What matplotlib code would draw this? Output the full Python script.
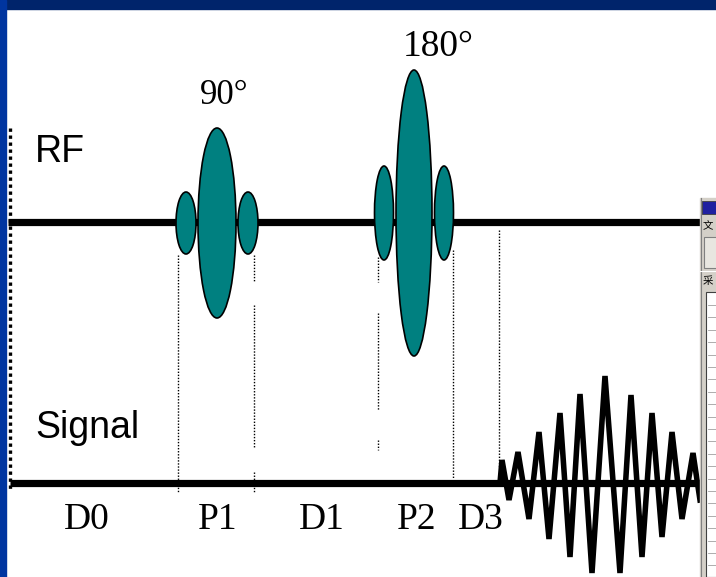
import numpy as np
import matplotlib.pyplot as plt
from matplotlib.patches import Ellipse, Rectangle

# Sequence timing (pixel time axis) and pulse amplitudes
pulse_names = ["90°", "180°"]
pulse_centers = [217, 414]
pulse_main_height = [95, 143]
pulse_main_halfwidth = [19, 18]
pulse_lobe_offset = [31, 30]
pulse_lobe_height = [31, 47]
pulse_lobe_halfwidth = [10, 9.5]
pulse_y = [223, 213]

interval_labels = ["D0", "P1", "D1", "P2", "D3"]
interval_centers = [87, 218, 322, 417, 481]

# Echo extrema (position, signed amplitude)
echo_x = [500, 502, 509, 518, 529, 539, 549, 560, 570, 580, 592, 605,
          620, 631, 642, 652, 662, 672, 682, 693, 700]
echo_amp = [0, 23, -17, 31, -36, 51, -56, 70, -74, 89, -90, 107,
            -90, 88, -74, 70, -54, 51, -36, 30, -17]

rf_y = 222
sig_y = 483

fig = plt.figure(figsize=(7.16, 5.77), dpi=100)
ax = fig.add_axes([0, 0, 1, 1])
ax.set_xlim(0, 716)
ax.set_ylim(577, 0)
ax.axis("off")

# slide frame
ax.add_patch(Rectangle((0, 0), 716, 9, color="#00246B", zorder=1))
ax.add_patch(Rectangle((0, 0), 6, 577, color="#0035A0", zorder=1))

# left dotted marker
ax.plot([10, 10], [128, 490], color="black", lw=2.4, ls=(0, (1, 1.1)), zorder=2)

# baselines
ax.plot([8, 700], [rf_y, rf_y], color="black", lw=5.2, solid_capstyle="butt", zorder=3)
ax.plot([10, 700], [sig_y, sig_y], color="black", lw=5.2, solid_capstyle="butt", zorder=3)

# timing guide lines (dotted)
guides = [(178, 255, 492), (254, 255, 282), (254, 305, 448), (254, 472, 492),
          (378, 257, 282), (378, 313, 410), (378, 440, 450),
          (453, 250, 478), (499, 230, 468)]
for gx, y0, y1 in guides:
    ax.plot([gx, gx], [y0, y1], color="black", lw=1.0, ls=(0, (1, 1.2)), zorder=2)

# RF pulses
for i in range(len(pulse_centers)):
    c = pulse_centers[i]
    yc = pulse_y[i]
    for dx in (-pulse_lobe_offset[i], pulse_lobe_offset[i]):
        ax.add_patch(Ellipse((c + dx, yc), 2 * pulse_lobe_halfwidth[i], 2 * pulse_lobe_height[i],
                             facecolor="#008080", edgecolor="black", lw=1.2, zorder=4))
    ax.add_patch(Ellipse((c, yc), 2 * pulse_main_halfwidth[i], 2 * pulse_main_height[i],
                         facecolor="#008080", edgecolor="black", lw=1.2, zorder=5))

ax.text(224, 95, pulse_names[0], fontsize=25, family="Liberation Serif",
        ha="center", va="center", zorder=6)
ax.text(438, 47, pulse_names[1], fontsize=27, family="Liberation Serif",
        ha="center", va="center", zorder=6)

# echo signal
ax.plot(echo_x, sig_y - np.array(echo_amp), color="black", lw=4.0,
        solid_joinstyle="miter", zorder=4)

# row labels
ax.text(35, 152, "RF", fontsize=27, family="Liberation Sans", ha="left", va="center")
ax.text(35, 428, "Signal", fontsize=27, family="Liberation Sans", ha="left", va="center")

for lab, xc in zip(interval_labels, interval_centers):
    ax.text(xc, 520, lab, fontsize=27, family="Liberation Serif", ha="center", va="center")

# window fragment at right edge
ax.add_patch(Rectangle((700, 198), 16, 379, color="#D4D0C8", zorder=6))
ax.plot([700.5, 700.5], [198, 577], color="#808080", lw=0.8, zorder=7)
ax.add_patch(Rectangle((702, 201), 14, 13, facecolor="#2020A0", edgecolor="#404040", lw=0.6, zorder=7))
ax.text(703, 226, "文", fontsize=7.5, family=["Noto Sans CJK SC", "DejaVu Sans"],
        ha="left", va="center", zorder=7)
ax.add_patch(Rectangle((704, 237), 14, 31, facecolor="#E8E6E0", edgecolor="#808080", lw=0.8, zorder=7))
ax.plot([700, 716], [271, 271], color="#FFFFFF", lw=0.8, zorder=7)
ax.text(703, 281, "采", fontsize=7.5, family=["Noto Sans CJK SC", "DejaVu Sans"],
        ha="left", va="center", zorder=7)
ax.add_patch(Rectangle((706, 292), 12, 285, facecolor="white", edgecolor="#404040", lw=0.8, zorder=7))
for yy in np.arange(305, 577, 12.4):
    ax.plot([708, 716], [yy, yy], color="#A0A0A0", lw=0.6, zorder=8)

fig.savefig("out.png", dpi=100)
